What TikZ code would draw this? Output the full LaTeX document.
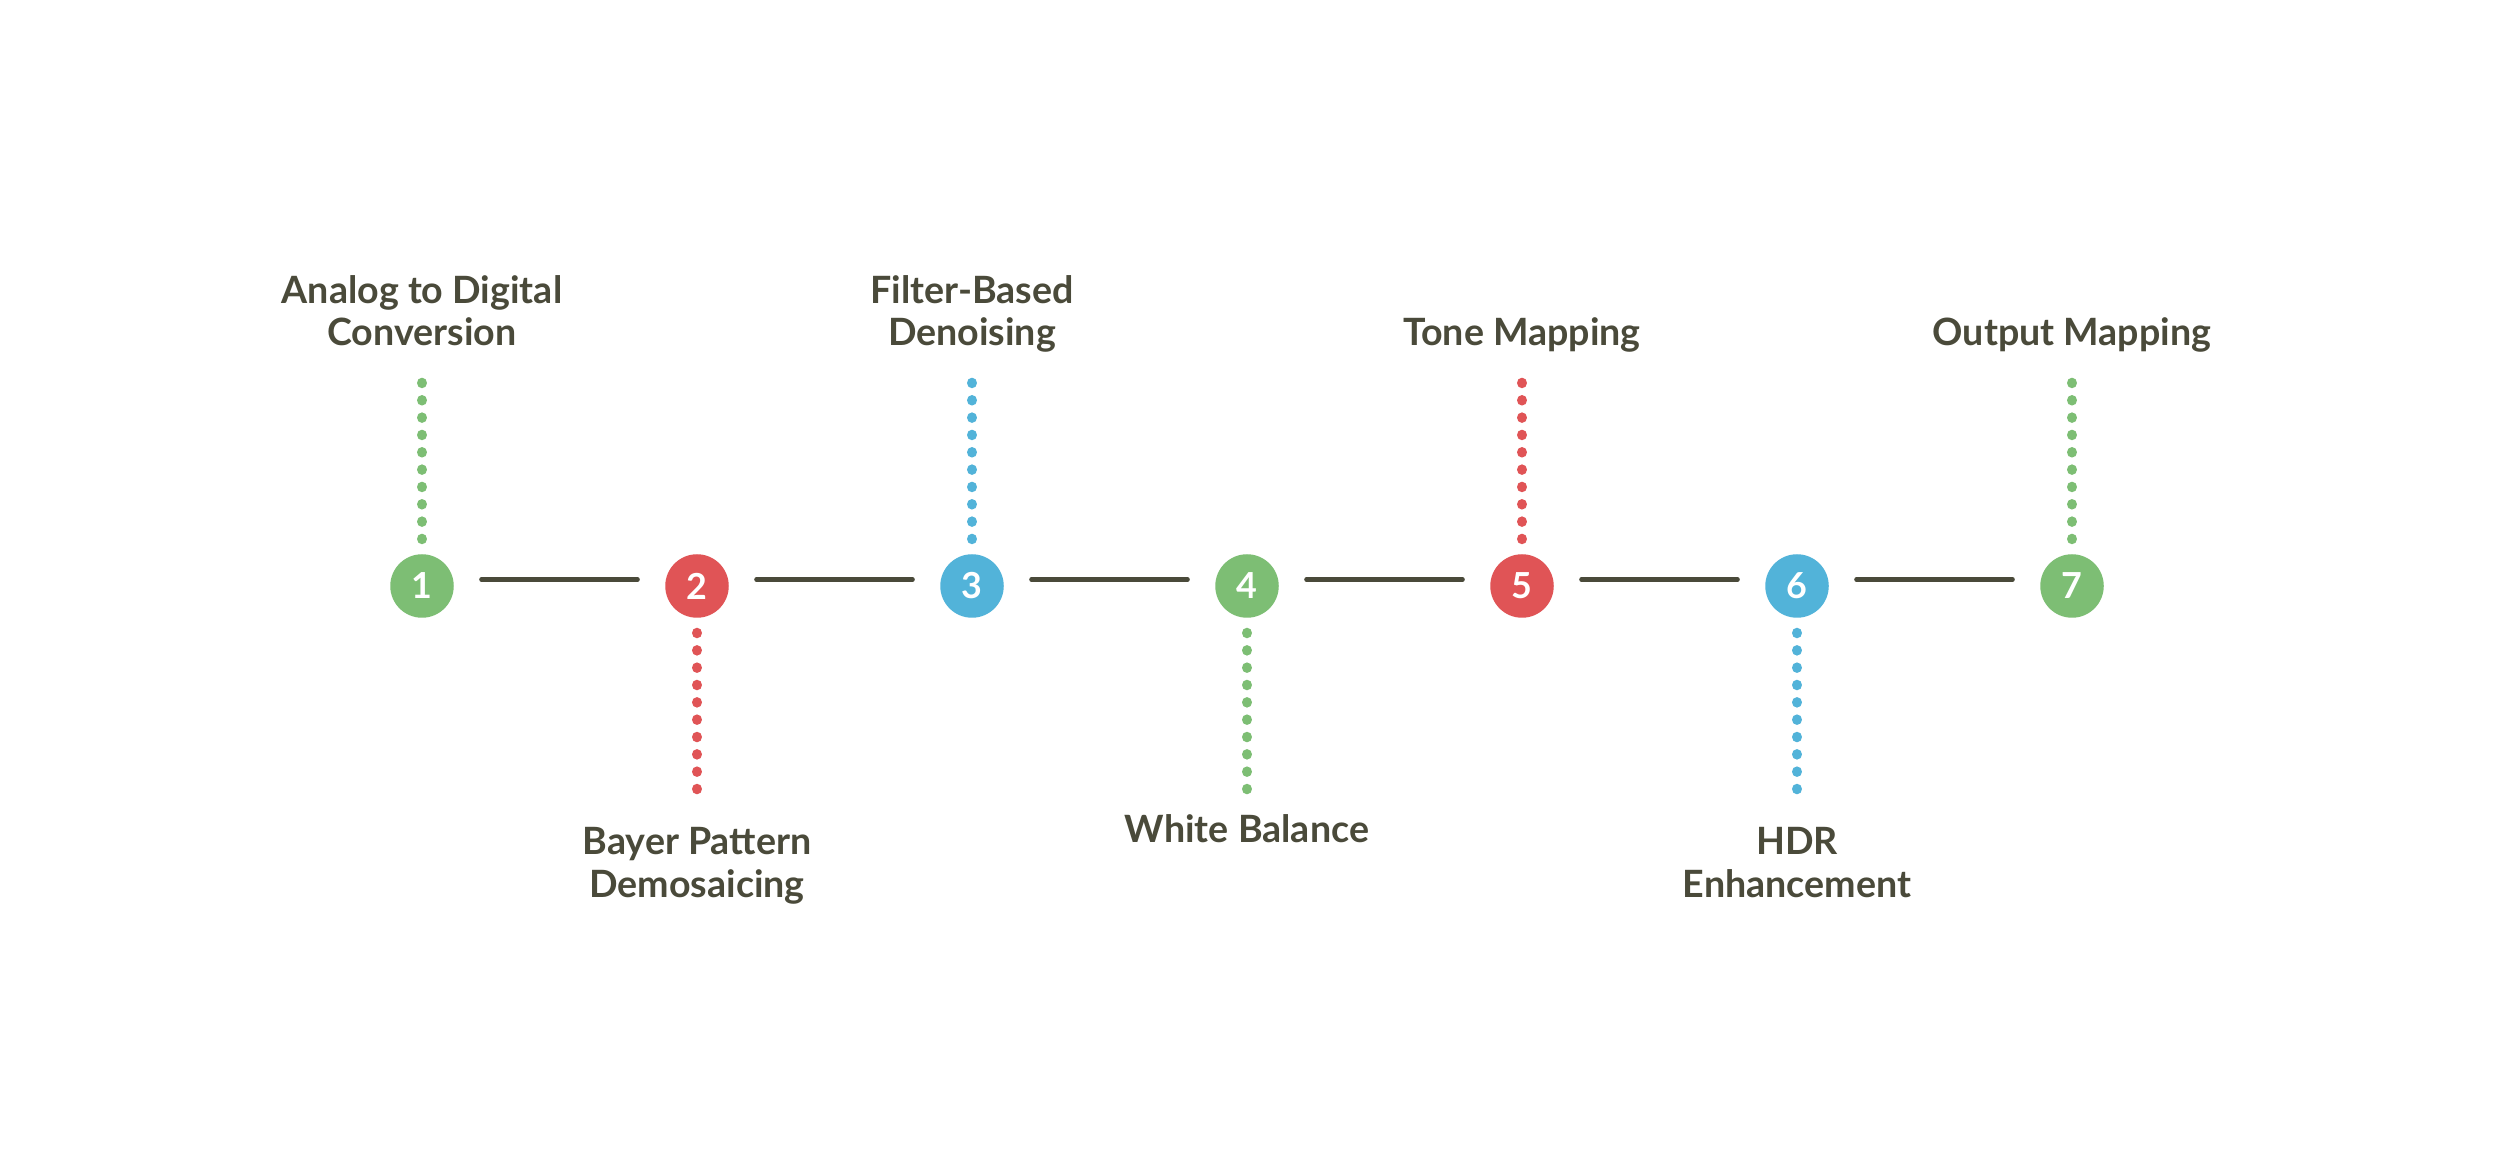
\documentclass[tikz,border=0pt]{standalone}
\usepackage{fontspec}
\setmainfont{Lato}
\usepackage{tikz}
\usetikzlibrary{positioning,calc}
\definecolor{cInk}{HTML}{4A4A3A}
\definecolor{cGreen}{HTML}{7DBE74}
\definecolor{cRed}{HTML}{E05456}
\definecolor{cBlue}{HTML}{52B3D9}
\tikzset{
  stepdot/.style={circle,fill=#1,minimum size=0.635cm,inner sep=0pt,text=white,font=\fontsize{10.2pt}{11pt}\selectfont\bfseries},
  stepdot/.default=cGreen,
  link/.style={line width=0.045cm,line cap=round,color=cInk,shorten <=0.27cm,shorten >=0.27cm},
  dotline/.style={line width=0.105cm,line cap=round,color=#1,dash pattern=on 0.01pt off 1.73mm},
  stepname/.style={font=\fontsize{10.7pt}{12.23pt}\selectfont\bfseries,text=cInk,align=center,inner sep=0pt,anchor=base},
}
\begin{document}
\begin{tikzpicture}[x=1cm,y=1cm]
  \path[use as bounding box,fill=white] (0,0) rectangle (25,11.72);
  % pipeline steps
  \node[stepdot=cGreen] (s1) at (4.22,5.86) {1};
  \node[stepdot=cRed] (s2) at (6.97,5.86) {2};
  \node[stepdot=cBlue] (s3) at (9.72,5.86) {3};
  \node[stepdot=cGreen] (s4) at (12.47,5.86) {4};
  \node[stepdot=cRed] (s5) at (15.22,5.86) {5};
  \node[stepdot=cBlue] (s6) at (17.97,5.86) {6};
  \node[stepdot=cGreen] (s7) at (20.72,5.86) {7};
  \draw[link] ([yshift=0.65mm]s1.east) -- ([yshift=0.65mm]s2.west);
  \draw[link] ([yshift=0.65mm]s2.east) -- ([yshift=0.65mm]s3.west);
  \draw[link] ([yshift=0.65mm]s3.east) -- ([yshift=0.65mm]s4.west);
  \draw[link] ([yshift=0.65mm]s4.east) -- ([yshift=0.65mm]s5.west);
  \draw[link] ([yshift=0.65mm]s5.east) -- ([yshift=0.65mm]s6.west);
  \draw[link] ([yshift=0.65mm]s6.east) -- ([yshift=0.65mm]s7.west);
  % labels above and below (base = last line)
  \node[stepname] (l1) at (4.22,8.26) {Analog to Digital\\Conversion};
  \node[stepname] (l2) at (6.97,2.743) {Bayer Pattern\\Demosaicing};
  \node[stepname] (l3) at (9.72,8.26) {Filter-Based\\Denoising};
  \node[stepname] (l4) at (12.47,3.293) {White Balance};
  \node[stepname] (l5) at (15.22,8.26) {Tone Mapping};
  \node[stepname] (l6) at (17.97,2.743) {HDR\\Enhancement};
  \node[stepname] (l7) at (20.72,8.26) {Output Mapping};
  \draw[dotline=cGreen] ([yshift=4.7mm]s1.center) -- ([yshift=20.35mm]s1.center);
  \draw[dotline=cRed] ([yshift=-4.7mm]s2.center) -- ([yshift=-20.35mm]s2.center);
  \draw[dotline=cBlue] ([yshift=4.7mm]s3.center) -- ([yshift=20.35mm]s3.center);
  \draw[dotline=cGreen] ([yshift=-4.7mm]s4.center) -- ([yshift=-20.35mm]s4.center);
  \draw[dotline=cRed] ([yshift=4.7mm]s5.center) -- ([yshift=20.35mm]s5.center);
  \draw[dotline=cBlue] ([yshift=-4.7mm]s6.center) -- ([yshift=-20.35mm]s6.center);
  \draw[dotline=cGreen] ([yshift=4.7mm]s7.center) -- ([yshift=20.35mm]s7.center);
\end{tikzpicture}
\end{document}
